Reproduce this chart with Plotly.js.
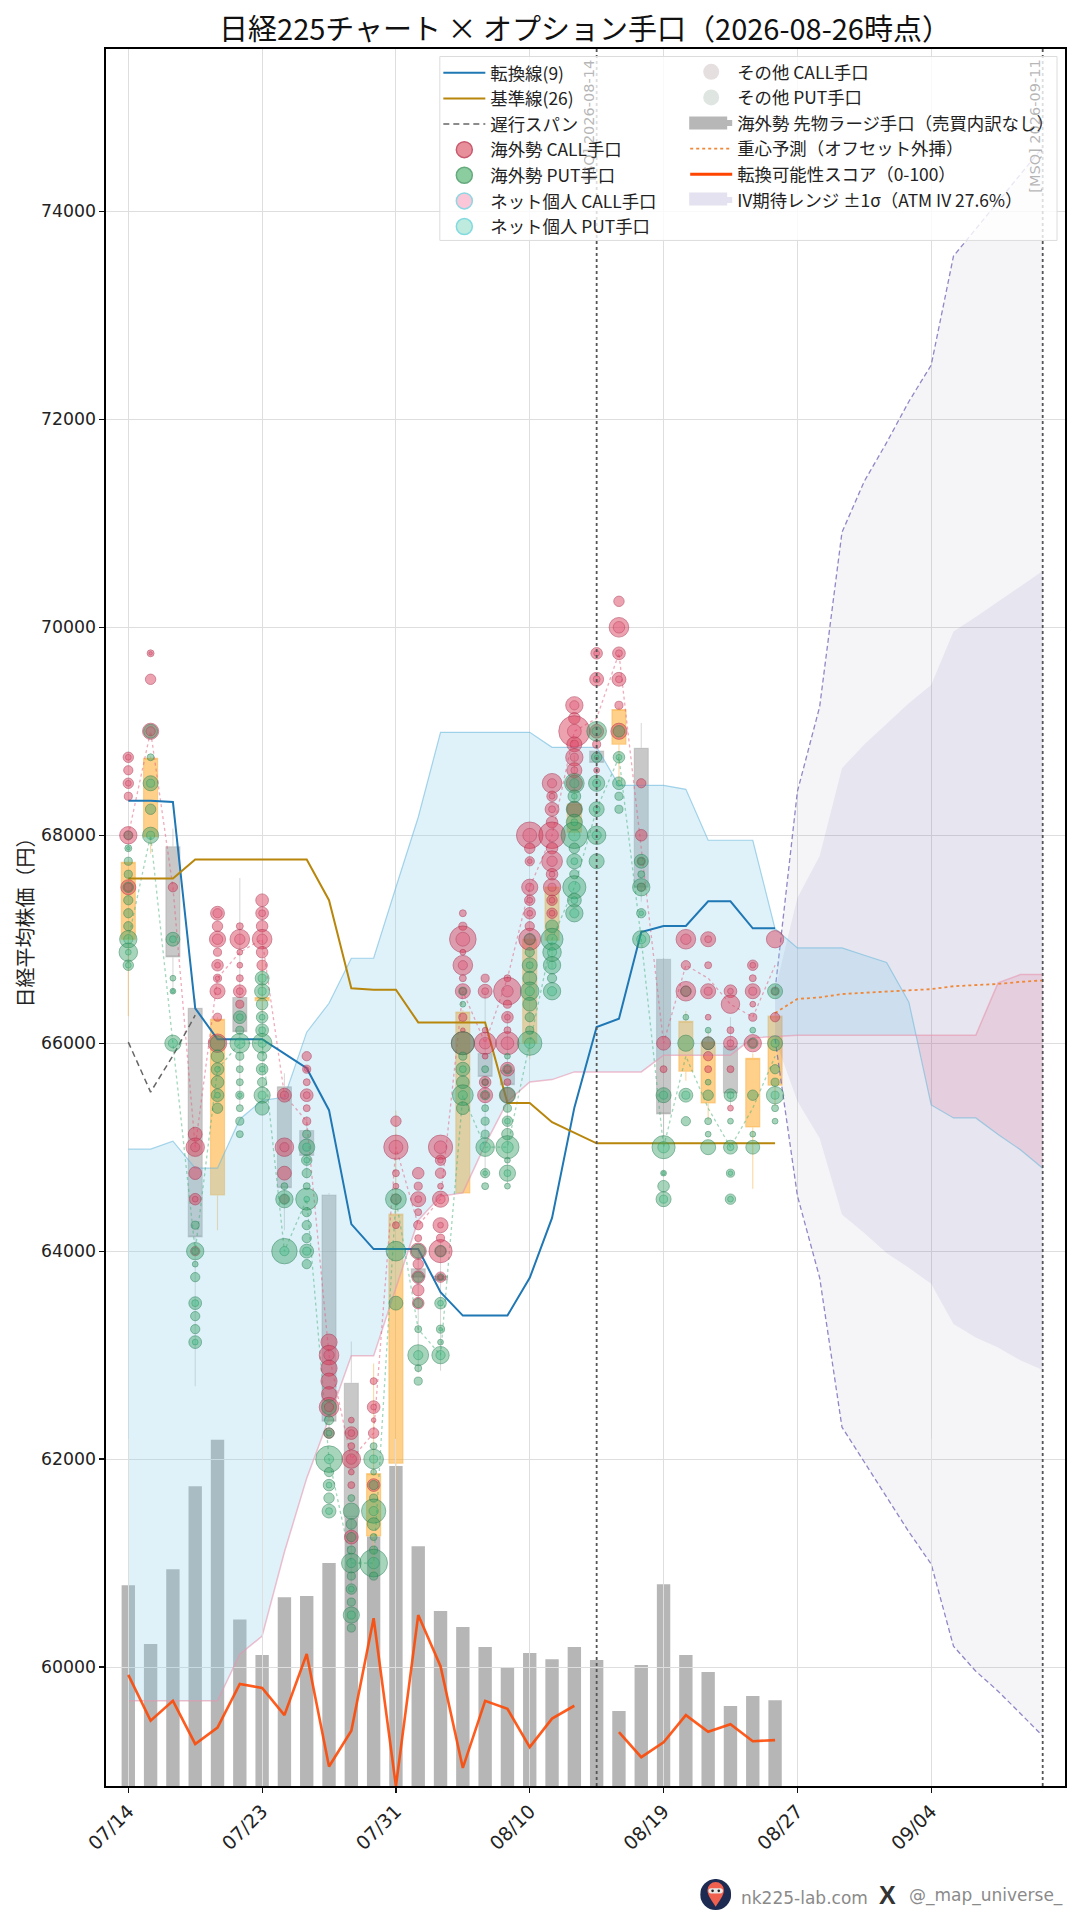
<!DOCTYPE html>
<html>
<head>
<meta charset="utf-8">
<script src="https://cdn.plot.ly/plotly-3.0.1.min.js"></script>
<style>html,body{margin:0;padding:0;background:#fff}</style>
</head>
<body>
<div id="myDiv" style="width:1080px;height:1920px"></div>
<script>
// tick labels every 6 sessions
var tickVals = [0, 6, 12, 18, 24, 30, 36];
var tickText = ['07/14', '07/23', '07/31', '08/10', '08/19', '08/27', '09/04'];

var tenkan = [68333,68333,68320,66336,66038,66038,66038,65900,65760,65356,64260,64020,64020,64020,63606,63380,63380,63380,63743,64320,65380,66156,66235,67070,67127,67127,67365,67365,67105,67105];
var kijun = [67583,67583,67583,67766,67766,67766,67766,67766,67766,67375,66529,66515,66515,66200,66200,66200,66200,65426,65426,65240,65140,65037,65037,65037,65037,65037,65037,65037,65037,65037];
var chikou = [66010,65530,65880,66270];

// ichimoku spans, session 0 to 41
var spanA = [64981,64981,65058,64798,64798,65269,65450,65480,66106,66384,66817,66817,67500,68173,68990,68990,68995,68990,68990,68846,68846,68846,68480,68480,68480,68442,67952,67952,67952,67100,66916,66916,66916,66846,66776,66394,65406,65281,65281,65123,64975,64798];
var spanB = [59676,59676,59676,59676,59676,60123,60298,61106,61817,62394,62993,62993,63654,64298,64529,64560,65025,65440,65628,65650,65724,65724,65724,65724,65885,65885,65885,65885,66052,66065,66077,66077,66077,66077,66077,66077,66077,66077,66077,66580,66660,66660];

// session 29 to 41
var ivDays = [29,30,31,32,33,34,35,36,37,38,39,40,41];
var ivUpper2 = [66510,68420,69237,70914,71404,71776,72172,72522,73570,73830,74090,74350,74618];
var ivLower2 = [66040,64534,63744,62307,61972,61636,61300,60990,60200,59960,59768,59553,59337];
var ivUpper1 = [66510,67396,67800,68645,68873,69074,69270,69446,69959,70099,70248,70400,70541];
var ivLower1 = [66040,65444,65085,64352,64175,63983,63840,63687,63300,63170,63073,62950,62858];
var centerForecast = [66290,66426,66440,66473,66485,66497,66510,66520,66548,66560,66570,66590,66604];

var futuresLots = [57.8,40.9,62.4,86.3,99.7,47.9,37.7,54.3,54.7,64.2,77.2,71.8,92.1,69,50.4,45.8,40,34,38.3,36.5,40,36.3,21.6,34.8,58.1,37.7,32.8,23,25.9,24.7];
var score = [32,18.8,24.5,12.1,16.8,29.4,28.2,20.4,38,5.6,15.9,48.3,0,49.2,34.5,5.2,24.5,22.2,11.2,19.4,23.1,null,15.5,8.3,12.6,20.4,15.6,17.8,12.9,13.2];

var openPx = [67000,67985,67890,66335,64540,66440,66410,65580,65160,64540,62730,61260,61960,63830,63760,64560,65900,65740,66000,66990,68030,68810,68875,68836,66807,65730,65425,65970,65195,65596];
var closePx = [67740,68740,66830,64137,66230,66110,66440,64610,64920,62365,61440,61860,64356,63750,63720,66300,65680,65600,67000,67503,68300,68700,69210,67500,65320,66210,66010,65520,65856,66260];
var highPx = [67760,68760,68066,66430,66250,67590,66800,65710,65300,64560,63130,62920,65350,64000,64100,66320,66500,66300,67020,67520,68770,68900,69230,69080,66820,66310,66125,66250,65900,66300];
var lowPx = [66260,67825,66480,62700,64200,65400,66300,64200,64700,62300,60800,60900,61500,62830,62850,64560,64700,64650,65846,66720,67990,68400,68480,67360,65100,65640,65260,65400,64600,65400];

var callCenter = [68000,69000,67500,65000,66625,66875,67000,65500,65250,63000,62000,62250,65000,64250,64500,66500,66000,66625,67500,68000,69000,69125,69750,67875,66000,66750,66625,66375,66250,66750];
var putCenter = [67000,68000,66000,64000,65750,66000,66000,64000,64500,62000,61000,61000,64500,63250,63000,65500,65000,65000,66000,67000,67500,68250,68750,67000,65000,65875,65375,65000,65375,65875];

// per session: [strike, foreign lots, net retail lots]
var callRows = [
  [[68750,81,25],[68625,64,0],[68500,81,25],[68375,49,0],[68000,225,64],[67500,169,49]],
  [[69750,36,9],[69500,81,0],[69000,196,64]],
  [[67500,64,0]],
  [[65125,144,0],[65000,256,64],[64750,121,0],[64500,100,25],[64000,64,0]],
  [[67250,144,64],[67125,81,0],[67000,196,81],[66875,49,0],[66750,100,25],[66625,49,16],[66500,169,36],[66250,49,0],[66000,256,0]],
  [[67125,36,0],[67000,289,81],[66875,25,0],[66750,25,0],[66625,36,0],[66500,121,36],[66375,49,0]],
  [[67375,121,0],[67250,121,36],[67125,100,0],[67000,289,81],[66875,100,0],[66750,81,0]],
  [[65500,144,49],[65000,256,64],[64750,144,0],[64500,64,0]],
  [[65875,64,0],[65750,49,16],[65625,36,0],[65500,121,36],[65375,36,0],[65250,49,0]],
  [[63125,196,0],[63000,289,81],[62875,196,0],[62750,196,0],[62625,169,0],[62500,289,64],[62250,81,0]],
  [[62375,25,0],[62250,121,36],[62125,36,0],[62000,256,81],[61875,25,0],[61750,36,0],[61250,144,0]],
  [[62750,36,0],[62500,121,25],[62375,16,0],[62250,81,0],[61750,121,0]],
  [[65250,81,0],[65000,441,144],[64750,36,0],[64625,25,0],[64500,81,0],[64250,36,0]],
  [[64750,100,0],[64625,49,0],[64500,169,36],[64375,36,0],[64250,64,0],[64125,36,0],[64000,196,0],[63875,81,0],[63750,121,0],[63625,100,0],[63500,100,0]],
  [[65000,441,121],[64875,81,25],[64750,81,0],[64625,25,0],[64500,196,64],[64250,169,25],[64125,49,0],[64000,400,81],[63750,81,16]],
  [[67250,36,0],[67125,49,0],[67000,529,144],[66875,25,0],[66750,289,64],[66625,36,0],[66500,169,36],[66250,49,0],[66125,16,0],[66000,400,0]],
  [[66625,49,0],[66500,144,36],[66125,25,0],[66000,361,100],[65875,25,0],[65625,100,25],[65500,169,36]],
  [[66625,36,0],[66500,576,100],[66375,49,0],[66250,100,25],[66125,36,0],[66000,400,121],[65750,144,36],[65625,36,0],[65500,169,0]],
  [[68000,529,144],[67875,81,0],[67750,64,16],[67500,196,49],[67375,81,25],[67250,100,25],[67125,64,0],[67000,361,81]],
  [[68500,289,64],[68375,81,25],[68250,144,36],[68125,100,0],[68000,529,121],[67875,100,0],[67750,324,81],[67625,100,25],[67500,225,49],[67375,81,25],[67250,81,25]],
  [[69250,225,64],[69125,100,0],[69000,729,144],[68875,169,49],[68750,225,49],[68625,169,36],[68500,196,0],[68250,169,0]],
  [[69750,100,25],[69500,144,36],[69000,144,0],[68875,49,0],[68625,25,0]],
  [[70250,81,0],[70000,289,100],[69750,121,36],[69500,144,36],[69250,49,0],[69000,196,0]],
  [[68500,64,0],[68000,100,0],[67750,49,0],[67500,49,0]],
  [[66000,144,0],[65750,36,0]],
  [[67000,289,81],[66750,64,0],[66500,289,81]],
  [[67000,169,36],[66750,36,0],[66500,169,49],[66250,25,0],[66000,121,0],[65875,64,0],[65750,36,0]],
  [[66500,121,25],[66375,256,0],[66125,36,0],[66000,144,36],[65750,36,0],[65375,25,0]],
  [[66750,81,25],[66625,36,0],[66500,169,49],[66375,25,0],[66250,49,0],[66000,225,49]],
  [[67000,225,0],[66500,49,0],[66250,64,0]]
];

var putRows = [
  [[68000,49,0],[67875,36,9],[67750,49,0],[67625,49,0],[67500,81,0],[67375,64,0],[67250,64,0],[67125,64,0],[67000,225,64],[66875,256,25],[66750,81,25]],
  [[69000,144,0],[68750,36,0],[68500,169,49],[68250,81,0],[68000,196,49]],
  [[67000,144,36],[66625,25,0],[66500,25,9],[66000,196,64]],
  [[64250,49,0],[64000,225,36],[63875,25,0],[63750,64,0],[63500,121,36],[63375,64,0],[63250,64,0],[63125,121,25]],
  [[66000,169,0],[65875,121,0],[65750,121,25],[65625,121,0],[65500,121,25],[65375,81,0]],
  [[66250,121,36],[66125,49,0],[66000,289,81],[65875,49,0],[65750,36,0],[65625,36,0],[65500,49,16],[65375,36,0],[65250,49,0],[65125,36,0]],
  [[66625,144,49],[66500,169,49],[66375,100,0],[66250,100,25],[66125,121,36],[66000,289,49],[65875,64,0],[65750,100,25],[65625,64,0],[65500,196,49],[65375,144,0]],
  [[64625,36,0],[64500,225,81],[64000,484,64]],
  [[65125,49,0],[65000,196,49],[64875,81,25],[64750,64,0],[64625,36,0],[64500,361,25],[64375,64,0],[64250,64,0],[64125,64,0],[64000,144,49],[63875,64,0]],
  [[62500,169,0],[62375,64,0],[62250,81,25],[62000,529,64],[61875,64,0],[61750,100,25],[61625,81,0],[61500,144,36]],
  [[61625,36,0],[61500,196,0],[61375,81,0],[61250,64,0],[61125,49,0],[61000,289,64],[60875,49,0],[60750,81,25],[60625,49,0],[60500,196,49],[60375,49,0]],
  [[62125,36,0],[62000,289,49],[61875,25,0],[61750,64,0],[61625,49,0],[61500,441,64],[61375,121,0],[61250,36,0],[61125,49,0],[61000,576,100],[60875,49,0]],
  [[64500,324,81],[64000,289,0],[63500,144,0]],
  [[64000,144,0],[63750,81,0],[63500,64,0],[63250,36,0],[63000,324,64],[62875,36,0],[62750,49,0]],
  [[64000,100,0],[63750,36,0],[63500,100,25],[63250,49,9],[63125,25,0],[63000,225,64]],
  [[66500,49,0],[66375,25,0],[66000,400,0],[65875,49,0],[65750,144,36],[65625,121,0],[65500,324,64],[65375,121,0]],
  [[65750,36,0],[65625,36,0],[65500,64,0],[65375,36,0],[65250,49,0],[65125,49,0],[65000,256,81],[64750,64,16],[64625,36,0]],
  [[65875,25,0],[65750,64,0],[65500,196,0],[65375,49,0],[65250,81,25],[65125,100,0],[65000,400,100],[64875,25,0],[64750,196,36],[64625,25,0]],
  [[67000,100,0],[66875,64,0],[66750,169,36],[66625,144,0],[66500,256,64],[66375,144,0],[66250,64,0],[66125,49,0],[66000,441,81]],
  [[67125,121,0],[67000,361,81],[66875,256,64],[66750,225,49],[66625,64,0],[66500,225,64]],
  [[68500,289,64],[68375,121,25],[68250,196,0],[68125,196,36],[68000,529,100],[67875,81,0],[67750,169,36],[67625,64,0],[67500,400,100],[67375,144,36],[67250,225,64]],
  [[69000,289,64],[68750,81,16],[68500,196,49],[68250,169,36],[68000,256,64],[67750,169,0]],
  [[69000,100,0],[68750,100,25],[68500,121,25],[68375,49,0],[68250,49,0]],
  [[67750,144,36],[67625,36,0],[67500,225,49],[67250,64,16],[67000,225,64]],
  [[65500,169,49],[65000,400,100],[64750,25,9],[64625,100,0],[64500,169,49]],
  [[66500,81,0],[66250,25,0],[66000,196,0],[65500,144,49],[65250,64,0]],
  [[66125,25,0],[66000,121,0],[65625,25,0],[65500,81,0],[65250,36,0],[65125,25,0],[65000,169,0]],
  [[65500,121,36],[65250,25,0],[65000,144,36],[64750,49,16],[64500,81,25]],
  [[66125,25,0],[66000,81,0],[65500,81,0],[65125,25,0],[65000,144,0]],
  [[66500,169,36],[66000,169,49],[65750,64,0],[65625,49,0],[65500,225,49],[65375,36,0],[65250,25,0]]
];

// pixel helpers for the layout, plot area is 105.5..1065 x 48.5..1786
function paperX(px) { return (px - 105.5) / 959.5; }
function paperY(py) { return 1 - (py - 48.5) / 1737.5; }

function sessions(n) {
  var out = [];
  for (var i = 0; i < n; i++) out.push(i);
  return out;
}

function bubbleTrace(rows, col, fill, edge) {
  var xs = [], ys = [], sizes = [];
  rows.forEach(function (dayRows, day) {
    dayRows.forEach(function (r) {
      if (r[col] > 0) { xs.push(day); ys.push(r[0]); sizes.push(r[col]); }
    });
  });
  return {
    x: xs, y: ys, yaxis: 'y2', type: 'scatter', mode: 'markers', showlegend: false, hoverinfo: 'skip',
    marker: {size: sizes, sizemode: 'area', sizeref: 1.5, color: fill, line: {color: edge, width: 1}}
  };
}

function legendEntry(name, legend, extra) {
  var t = {x: [null], y: [null], yaxis: 'y2', type: 'scatter', name: name, legendgroup: name, hoverinfo: 'skip'};
  if (legend) t.legend = legend;
  for (var k in extra) t[k] = extra[k];
  return t;
}

function markerEntry(name, legend, fill, edge) {
  return legendEntry(name, legend, {mode: 'markers', marker: {size: 16, color: fill, line: {color: edge, width: edge === fill ? 0 : 1.5}}});
}

// split the cloud where span A falls under span B
var crossX = null, crossY = null, crossIdx = 0;
for (var i = 0; i < spanA.length - 1; i++) {
  if (spanA[i] >= spanB[i] && spanA[i + 1] < spanB[i + 1]) {
    var t = (spanA[i] - spanB[i]) / ((spanA[i] - spanB[i]) - (spanA[i + 1] - spanB[i + 1]));
    crossX = i + t;
    crossY = spanA[i] + t * (spanA[i + 1] - spanA[i]);
    crossIdx = i;
    break;
  }
}
var allDays = sessions(spanA.length);
var blueX = allDays.slice(0, crossIdx + 1).concat([crossX]);
var blueHigh = spanA.slice(0, crossIdx + 1).concat([crossY]);
var blueLow = spanB.slice(0, crossIdx + 1).concat([crossY]);
var pinkX = [crossX].concat(allDays.slice(crossIdx + 1));
var pinkLow = [crossY].concat(spanA.slice(crossIdx + 1));
var pinkHigh = [crossY].concat(spanB.slice(crossIdx + 1));

var days = sessions(30);
var noLine = {width: 0};
var ivEdge = {color: 'rgba(120,105,185,0.8)', width: 1.3, dash: '5px,3px'};
var data = [
  // volume bars go first so everything else sits on top
  {x: days, y: futuresLots, yaxis: 'y', type: 'bar', width: 0.6, showlegend: false, hoverinfo: 'skip', marker: {color: 'rgba(120,120,120,0.54)'}},

  {x: ivDays, y: ivLower2, yaxis: 'y2', type: 'scatter', mode: 'lines', line: ivEdge, showlegend: false, hoverinfo: 'skip'},
  {x: ivDays, y: ivUpper2, yaxis: 'y2', type: 'scatter', mode: 'lines', line: ivEdge, fill: 'tonexty', fillcolor: 'rgba(110,110,160,0.07)', showlegend: false, hoverinfo: 'skip'},
  {x: ivDays, y: ivLower1, yaxis: 'y2', type: 'scatter', mode: 'lines', line: noLine, showlegend: false, hoverinfo: 'skip'},
  {x: ivDays, y: ivUpper1, yaxis: 'y2', type: 'scatter', mode: 'lines', line: noLine, fill: 'tonexty', fillcolor: 'rgba(110,90,170,0.1)', showlegend: false, hoverinfo: 'skip'},

  {x: blueX, y: blueLow, yaxis: 'y2', type: 'scatter', mode: 'lines', line: noLine, showlegend: false, hoverinfo: 'skip'},
  {x: blueX, y: blueHigh, yaxis: 'y2', type: 'scatter', mode: 'lines', line: noLine, fill: 'tonexty', fillcolor: 'rgba(135,206,235,0.27)', showlegend: false, hoverinfo: 'skip'},
  {x: pinkX, y: pinkLow, yaxis: 'y2', type: 'scatter', mode: 'lines', line: noLine, showlegend: false, hoverinfo: 'skip'},
  {x: pinkX, y: pinkHigh, yaxis: 'y2', type: 'scatter', mode: 'lines', line: noLine, fill: 'tonexty', fillcolor: 'rgba(220,60,110,0.13)', showlegend: false, hoverinfo: 'skip'},
  {x: allDays, y: spanA, yaxis: 'y2', type: 'scatter', mode: 'lines', line: {color: 'rgba(110,185,220,0.6)', width: 1.2}, showlegend: false, hoverinfo: 'skip'},
  {x: allDays, y: spanB, yaxis: 'y2', type: 'scatter', mode: 'lines', line: {color: 'rgba(230,150,175,0.6)', width: 1.5}, showlegend: false, hoverinfo: 'skip'},

  {x: days, open: openPx, high: highPx, low: lowPx, close: closePx, yaxis: 'y2', type: 'candlestick', showlegend: false, hoverinfo: 'skip',
    increasing: {line: {color: 'rgba(250,175,70,0.5)', width: 1.1}, fillcolor: 'rgba(253,170,40,0.55)'},
    decreasing: {line: {color: 'rgba(150,150,150,0.35)', width: 1.1}, fillcolor: 'rgba(125,125,125,0.42)'}},

  {x: days, y: callCenter, yaxis: 'y2', type: 'scatter', mode: 'lines', line: {color: 'rgba(225,90,120,0.5)', width: 1.3, dash: 'dot'}, showlegend: false, hoverinfo: 'skip'},
  {x: days, y: putCenter, yaxis: 'y2', type: 'scatter', mode: 'lines', line: {color: 'rgba(70,175,120,0.5)', width: 1.3, dash: 'dot'}, showlegend: false, hoverinfo: 'skip'},

  {x: days, y: tenkan, yaxis: 'y2', type: 'scatter', mode: 'lines', line: {color: '#1f77b4', width: 2}, showlegend: false, hoverinfo: 'skip'},
  {x: days, y: kijun, yaxis: 'y2', type: 'scatter', mode: 'lines', line: {color: '#b8860b', width: 2}, showlegend: false, hoverinfo: 'skip'},
  {x: sessions(chikou.length), y: chikou, yaxis: 'y2', type: 'scatter', mode: 'lines', line: {color: '#666', width: 1.5, dash: '6px,4px'}, showlegend: false, hoverinfo: 'skip'},
  {x: ivDays, y: centerForecast, yaxis: 'y2', type: 'scatter', mode: 'lines', line: {color: '#f0883a', width: 1.8, dash: 'dot'}, showlegend: false, hoverinfo: 'skip'},

  // calls under puts, a put on a call shows as the dark green core
  bubbleTrace(callRows, 1, 'rgba(218,62,92,0.68)', 'rgba(170,45,75,0.75)'),
  bubbleTrace(putRows, 1, 'rgba(55,160,100,0.62)', 'rgba(35,125,80,0.72)'),
  bubbleTrace(callRows, 2, 'rgba(225,60,100,0.4)', 'rgba(165,45,75,0.55)'),
  bubbleTrace(putRows, 2, 'rgba(45,185,125,0.42)', 'rgba(30,140,95,0.55)'),

  {x: days, y: score, yaxis: 'y3', type: 'scatter', mode: 'lines', line: {color: 'rgba(255,69,0,0.88)', width: 2.6}, showlegend: false, hoverinfo: 'skip'},

  // legend, left block
  legendEntry('転換線(9)', null, {mode: 'lines', line: {color: '#1f77b4', width: 2}}),
  legendEntry('基準線(26)', null, {mode: 'lines', line: {color: '#b8860b', width: 2}}),
  legendEntry('遅行スパン', null, {mode: 'lines', line: {color: '#666', width: 1.5, dash: '6px,4px'}}),
  markerEntry('海外勢 CALL手口', null, 'rgb(232,143,156)', 'rgb(200,90,110)'),
  markerEntry('海外勢 PUT手口', null, 'rgb(140,205,160)', 'rgb(100,170,125)'),
  markerEntry('ネット個人 CALL手口', null, 'rgb(250,198,216)', 'rgb(140,215,225)'),
  markerEntry('ネット個人 PUT手口', null, 'rgb(190,235,222)', 'rgb(130,218,225)'),

  // legend, right block
  markerEntry('その他 CALL手口', 'legend2', 'rgb(230,223,224)', 'rgb(230,223,224)'),
  markerEntry('その他 PUT手口', 'legend2', 'rgb(223,230,225)', 'rgb(223,230,225)'),
  legendEntry('海外勢 先物ラージ手口（売買内訳なし）', 'legend2', {mode: 'none', fill: 'toself', fillcolor: 'rgb(183,183,183)'}),
  legendEntry('重心予測（オフセット外挿）', 'legend2', {mode: 'lines', line: {color: '#f0883a', width: 1.8, dash: 'dot'}}),
  legendEntry('転換可能性スコア（0-100）', 'legend2', {mode: 'lines', line: {color: '#ff4500', width: 3}}),
  legendEntry('IV期待レンジ ±1σ（ATM IV 27.6%）', 'legend2', {mode: 'none', fill: 'toself', fillcolor: 'rgb(228,226,240)'})
];

var cjk = '"Noto Sans CJK JP", "Noto Sans", sans-serif';
var legendFont = {family: cjk, size: 17.4, color: '#222'};
var tickFont = {family: 'DejaVu Sans, sans-serif', size: 17.3, color: '#222'};

var logo = '<svg xmlns="http://www.w3.org/2000/svg" viewBox="0 0 60 60">' +
  '<circle cx="30" cy="30" r="30" fill="#1d2b52"/>' +
  '<path d="M14 22a16 16 0 0 1 32 0c0 10-10 22-16 32c-6-10-16-22-16-32z" fill="#f0604f"/>' +
  '<rect x="16" y="18" width="28" height="10" rx="5" fill="#e8e8e8"/>' +
  '<circle cx="24" cy="23" r="2.5" fill="#222"/><circle cx="36" cy="23" r="2.5" fill="#222"/></svg>';

var layout = {
  width: 1080,
  height: 1920,
  margin: {l: 105.5, r: 15, t: 48.5, b: 134, pad: 0},
  paper_bgcolor: '#fff',
  // transparent, or the upper subplots paint over the lower ones
  plot_bgcolor: 'rgba(0,0,0,0)',
  hovermode: false,
  boxmode: 'overlay',
  boxgap: 0.37,
  boxgroupgap: 0,
  title: {text: '日経225チャート × オプション手口（2026-08-26時点）', font: {family: cjk, size: 29, color: '#111'}, x: 585 / 1080, xanchor: 'center', y: 1 - 30 / 1920, yanchor: 'middle'},
  xaxis: {
    range: [-1, 42], anchor: 'y2', tickmode: 'array', tickvals: tickVals, ticktext: tickText, tickangle: -45,
    tickfont: {family: 'DejaVu Sans, sans-serif', size: 19, color: '#222'}, ticks: 'outside', ticklen: 5, tickwidth: 1.2, tickcolor: '#111',
    showgrid: true, gridcolor: '#dedede', gridwidth: 1, zeroline: false, showline: true, mirror: true, linecolor: '#000', linewidth: 1.6,
    rangeslider: {visible: false}
  },
  yaxis: {domain: [0, 0.2], range: [0, 100], anchor: 'x', visible: false, fixedrange: true},
  yaxis2: {
    domain: [0, 1], range: [58856, 75562], anchor: 'x', side: 'left', tick0: 0, dtick: 2000, tickformat: 'd',
    tickfont: tickFont, ticks: 'outside', ticklen: 5, tickwidth: 1.2, tickcolor: '#111',
    showgrid: true, gridcolor: '#dedede', gridwidth: 1, zeroline: false, showline: true, mirror: true, linecolor: '#000', linewidth: 1.6,
    title: {text: '日経平均株価（円）', font: {family: cjk, size: 20, color: '#222'}, standoff: 2}
  },
  yaxis3: {domain: [0, 0.2], range: [0, 100], anchor: 'x', visible: false, fixedrange: true},
  legend: {x: paperX(438), y: paperY(54.5), xanchor: 'left', yanchor: 'top', bgcolor: 'rgba(0,0,0,0)', font: legendFont, itemwidth: 42, tracegroupgap: 0, traceorder: 'grouped', itemclick: false, itemdoubleclick: false},
  legend2: {x: paperX(685), y: paperY(53.5), xanchor: 'left', yanchor: 'top', bgcolor: 'rgba(0,0,0,0)', font: legendFont, itemwidth: 42, tracegroupgap: 0, traceorder: 'grouped', itemclick: false, itemdoubleclick: false},
  shapes: [
    {type: 'line', xref: 'x', yref: 'paper', x0: 21, x1: 21, y0: 0, y1: 1, layer: 'above', line: {color: '#555', width: 1.8, dash: 'dot'}},
    {type: 'line', xref: 'x', yref: 'paper', x0: 41, x1: 41, y0: 0, y1: 1, layer: 'above', line: {color: '#555', width: 1.8, dash: 'dot'}},
    {type: 'rect', xref: 'paper', yref: 'paper', x0: paperX(439.5), x1: paperX(1057), y0: paperY(240), y1: paperY(56), layer: 'above', fillcolor: 'rgba(255,255,255,0.8)', line: {color: '#dcdcdc', width: 1}},
    // the legend draws its fill swatches thin, these bring them to full height
    {type: 'rect', xref: 'paper', yref: 'paper', x0: paperX(689), x1: paperX(727), y0: paperY(129), y1: paperY(116), layer: 'above', fillcolor: 'rgb(183,183,183)', line: {width: 0}},
    {type: 'rect', xref: 'paper', yref: 'paper', x0: paperX(689), x1: paperX(727), y0: paperY(205), y1: paperY(192), layer: 'above', fillcolor: 'rgb(228,226,240)', line: {width: 0}}
  ],
  annotations: [
    {text: '[SQ] 2026-08-14', xref: 'x', yref: 'paper', x: 21, xshift: -8, y: paperY(57), yanchor: 'top', xanchor: 'center', textangle: -90, showarrow: false, font: {family: 'DejaVu Sans', size: 14.5, color: 'rgba(110,110,110,0.5)'}},
    {text: '[MSQ] 2026-09-11', xref: 'x', yref: 'paper', x: 41, xshift: -8, y: paperY(57), yanchor: 'top', xanchor: 'center', textangle: -90, showarrow: false, font: {family: 'DejaVu Sans', size: 14.5, color: 'rgba(110,110,110,0.5)'}},
    {text: 'nk225-lab.com', xref: 'paper', yref: 'paper', x: paperX(739), y: paperY(1898), xanchor: 'left', yanchor: 'middle', showarrow: false, font: {family: 'DejaVu Sans', size: 17, color: '#8a8a8a'}},
    {text: '<b>X</b>', xref: 'paper', yref: 'paper', x: paperX(887), y: paperY(1895), xanchor: 'center', yanchor: 'middle', showarrow: false, font: {family: 'Liberation Sans', size: 25, color: '#333'}},
    {text: '@_map_universe_', xref: 'paper', yref: 'paper', x: paperX(1065), y: paperY(1896), xanchor: 'right', yanchor: 'middle', showarrow: false, font: {family: 'DejaVu Sans', size: 17, color: '#8a8a8a'}}
  ],
  images: [
    {source: 'data:image/svg+xml;utf8,' + encodeURIComponent(logo), xref: 'paper', yref: 'paper', x: paperX(700), y: paperY(1879), sizex: 31 / 959.5, sizey: 31 / 1737.5, xanchor: 'left', yanchor: 'top', layer: 'above'}
  ]
};

Plotly.newPlot('myDiv', data, layout, {displayModeBar: false, staticPlot: true});
</script>
</body>
</html>
